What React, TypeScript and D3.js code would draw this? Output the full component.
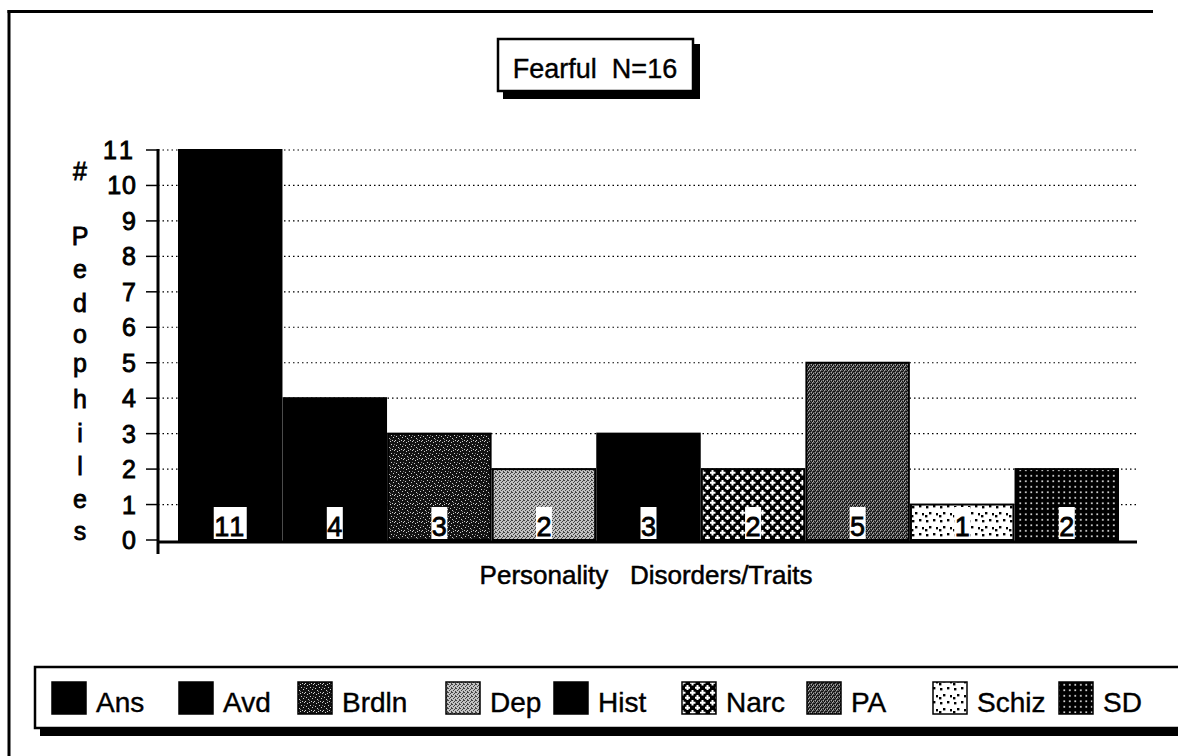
import React from "react";
import * as d3 from "d3";

const categories = ["Ans", "Avd", "Brdln", "Dep", "Hist", "Narc", "PA", "Schiz", "SD"];
const counts = [11, 4, 3, 2, 3, 2, 5, 1, 2];
const yTicks = [0, 1, 2, 3, 4, 5, 6, 7, 8, 9, 10, 11];
const yTitleLetters = ["#", "P", "e", "d", "o", "p", "h", "i", "l", "e", "s"];
const chartTitle = "Fearful  N=16";
const xTitle = "Personality   Disorders/Traits";

// layout / style (not data)
const fillIds = ["solid", "solid", "brdln", "dep", "solid", "narc", "pa", "schiz", "sd"];
const letterBaselines = [180, 245, 278, 312, 343, 372, 408, 442, 475, 508, 540];
const legendX = [52, 179, 298, 446, 554, 682, 807, 933, 1059];

const FONT = "'Liberation Sans', Arial, Helvetica, sans-serif";

function pixels(list: number[][], color: string, s = 1) {
  return list.map(([x, y], i) => <rect key={i} x={x} y={y} width={s} height={s} fill={color} />);
}

export default function App() {
  const x = d3.scaleBand<string>().domain(categories).range([179, 1118]).paddingInner(0.02).paddingOuter(0);
  const y = d3.scaleLinear().domain([0, 11]).range([540, 150]);
  const axisX = 158;
  const gridEnd = 1137;

  return (
    <svg width={1178} height={756} style={{ position: "absolute", left: 0, top: 0, background: "#fff" }} fontFamily={FONT}>
      <defs>
        <pattern id="solid" width={4} height={4} patternUnits="userSpaceOnUse">
          <rect width={4} height={4} fill="#000" />
        </pattern>
        <pattern id="brdln" width={9} height={9} patternUnits="userSpaceOnUse">
          <rect width={9} height={9} fill="#121212" />
          {pixels([[1, 1], [4, 3], [7, 0], [2, 6], [6, 5], [8, 8], [0, 4], [5, 8], [3, 0]], "#d0d0d0")}
          {pixels([[7, 3], [3, 7]], "#777")}
        </pattern>
        <pattern id="dep" width={4} height={4} patternUnits="userSpaceOnUse">
          <rect width={4} height={4} fill="#c2c2c2" />
          {pixels([[0, 0], [2, 1], [1, 2], [3, 3], [3, 0]], "#444")}
        </pattern>
        <pattern id="pa" width={4} height={4} patternUnits="userSpaceOnUse">
          <rect width={4} height={4} fill="#555" />
          {pixels([[0, 0], [2, 1], [1, 3], [3, 2], [2, 3], [0, 1]], "#111")}
          {pixels([[1, 1], [3, 0], [0, 2]], "#aaa")}
        </pattern>
        <pattern id="narc" width={10} height={10} patternUnits="userSpaceOnUse">
          <rect width={10} height={10} fill="#000" />
          <rect x={1.5} y={0} width={2} height={5.5} fill="#fff" />
          <rect x={0} y={1.75} width={5.5} height={2} fill="#fff" />
          <rect x={6.5} y={5} width={2} height={5.5} fill="#fff" />
          <rect x={5} y={6.75} width={5.5} height={2} fill="#fff" />
        </pattern>
        <pattern id="schiz" width={14} height={14} patternUnits="userSpaceOnUse">
          <rect width={14} height={14} fill="#fff" />
          {pixels([[2, 2], [9, 1], [5, 8], [12, 9], [1, 11]], "#000", 2.4)}
        </pattern>
        <pattern id="sd" width={5.5} height={5.5} patternUnits="userSpaceOnUse">
          <rect width={5.5} height={5.5} fill="#000" />
          <rect x={2} y={2} width={1.6} height={1.6} fill="#fff" />
        </pattern>
      </defs>

      {/* outer frame (left and top edges visible) */}
      <line x1={9} x2={9} y1={10} y2={760} stroke="#000" strokeWidth={3} />
      <line x1={7.5} x2={1153} y1={11.5} y2={11.5} stroke="#000" strokeWidth={3} />

      {/* title box */}
      <rect x={503} y={44} width={197} height={55} fill="#000" />
      <rect x={498} y={39} width={195} height={52} fill="#fff" stroke="#000" strokeWidth={2.5} />
      <text x={595} y={78} textAnchor="middle" fontSize={27} fill="#000" stroke="#000" strokeWidth={0.4}
        style={{ whiteSpace: "pre" }}>{chartTitle}</text>

      {/* gridlines */}
      {yTicks.filter((t) => t > 0).map((t) => (
        <line key={t} x1={axisX} x2={gridEnd} y1={y(t)} y2={y(t)} stroke="#000" strokeWidth={1.2} strokeDasharray="1.5,3" />
      ))}

      {/* bars */}
      {categories.map((c, i) => (
        <rect key={c} x={x(c)} y={y(counts[i])} width={x.bandwidth()} height={y(0) - y(counts[i])}
          fill={`url(#${fillIds[i]})`} stroke="#000" strokeWidth={2} />
      ))}

      {/* value labels */}
      {categories.map((c, i) => {
        const label = String(counts[i]);
        const w = label.length * 16 + (label.length - 1) * 1;
        const cx = (x(c) as number) + x.bandwidth() / 2;
        return (
          <g key={c}>
            <rect x={cx - w / 2} y={507} width={w} height={32} fill="#fff" />
            <text x={cx} y={536} textAnchor="middle" fontSize={27} fill="#000" letterSpacing={label.length > 1 ? 2 : 0}
              stroke="#000" strokeWidth={0.8}>{label}</text>
          </g>
        );
      })}

      {/* y axis */}
      <line x1={axisX} x2={axisX} y1={y(11) - 1} y2={554} stroke="#000" strokeWidth={3} />
      {yTicks.map((t) => (
        <g key={t}>
          <line x1={146} x2={axisX} y1={y(t)} y2={y(t)} stroke="#000" strokeWidth={1.5} />
          <text x={137} y={y(t) + 9} textAnchor="end" fontSize={25} fill="#000" stroke="#000" strokeWidth={0.9}
            letterSpacing={t === 11 ? 4 : 1}>{t}</text>
        </g>
      ))}
      {/* x axis */}
      <line x1={axisX} x2={gridEnd} y1={542} y2={542} stroke="#000" strokeWidth={3} />

      {/* y title */}
      {yTitleLetters.map((l, i) => (
        <text key={i} x={80} y={letterBaselines[i]} textAnchor="middle" fontSize={25} fill="#000" stroke="#000" strokeWidth={0.8}>{l}</text>
      ))}

      {/* x title */}
      <text x={646} y={584} textAnchor="middle" fontSize={26} fill="#000" stroke="#000" strokeWidth={0.5}
        style={{ whiteSpace: "pre" }}>{xTitle}</text>

      {/* legend */}
      <rect x={40} y={672} width={1200} height={64} fill="#000" />
      <rect x={35} y={667} width={1200} height={61} fill="#fff" stroke="#000" strokeWidth={2.5} />
      {categories.map((c, i) => (
        <g key={c}>
          <rect x={legendX[i]} y={682} width={34} height={32} fill={`url(#${fillIds[i]})`} stroke="#000" strokeWidth={1.5} />
          <text x={legendX[i] + 44} y={712} fontSize={28} fill="#000" stroke="#000" strokeWidth={0.4}>{c}</text>
        </g>
      ))}
    </svg>
  );
}
